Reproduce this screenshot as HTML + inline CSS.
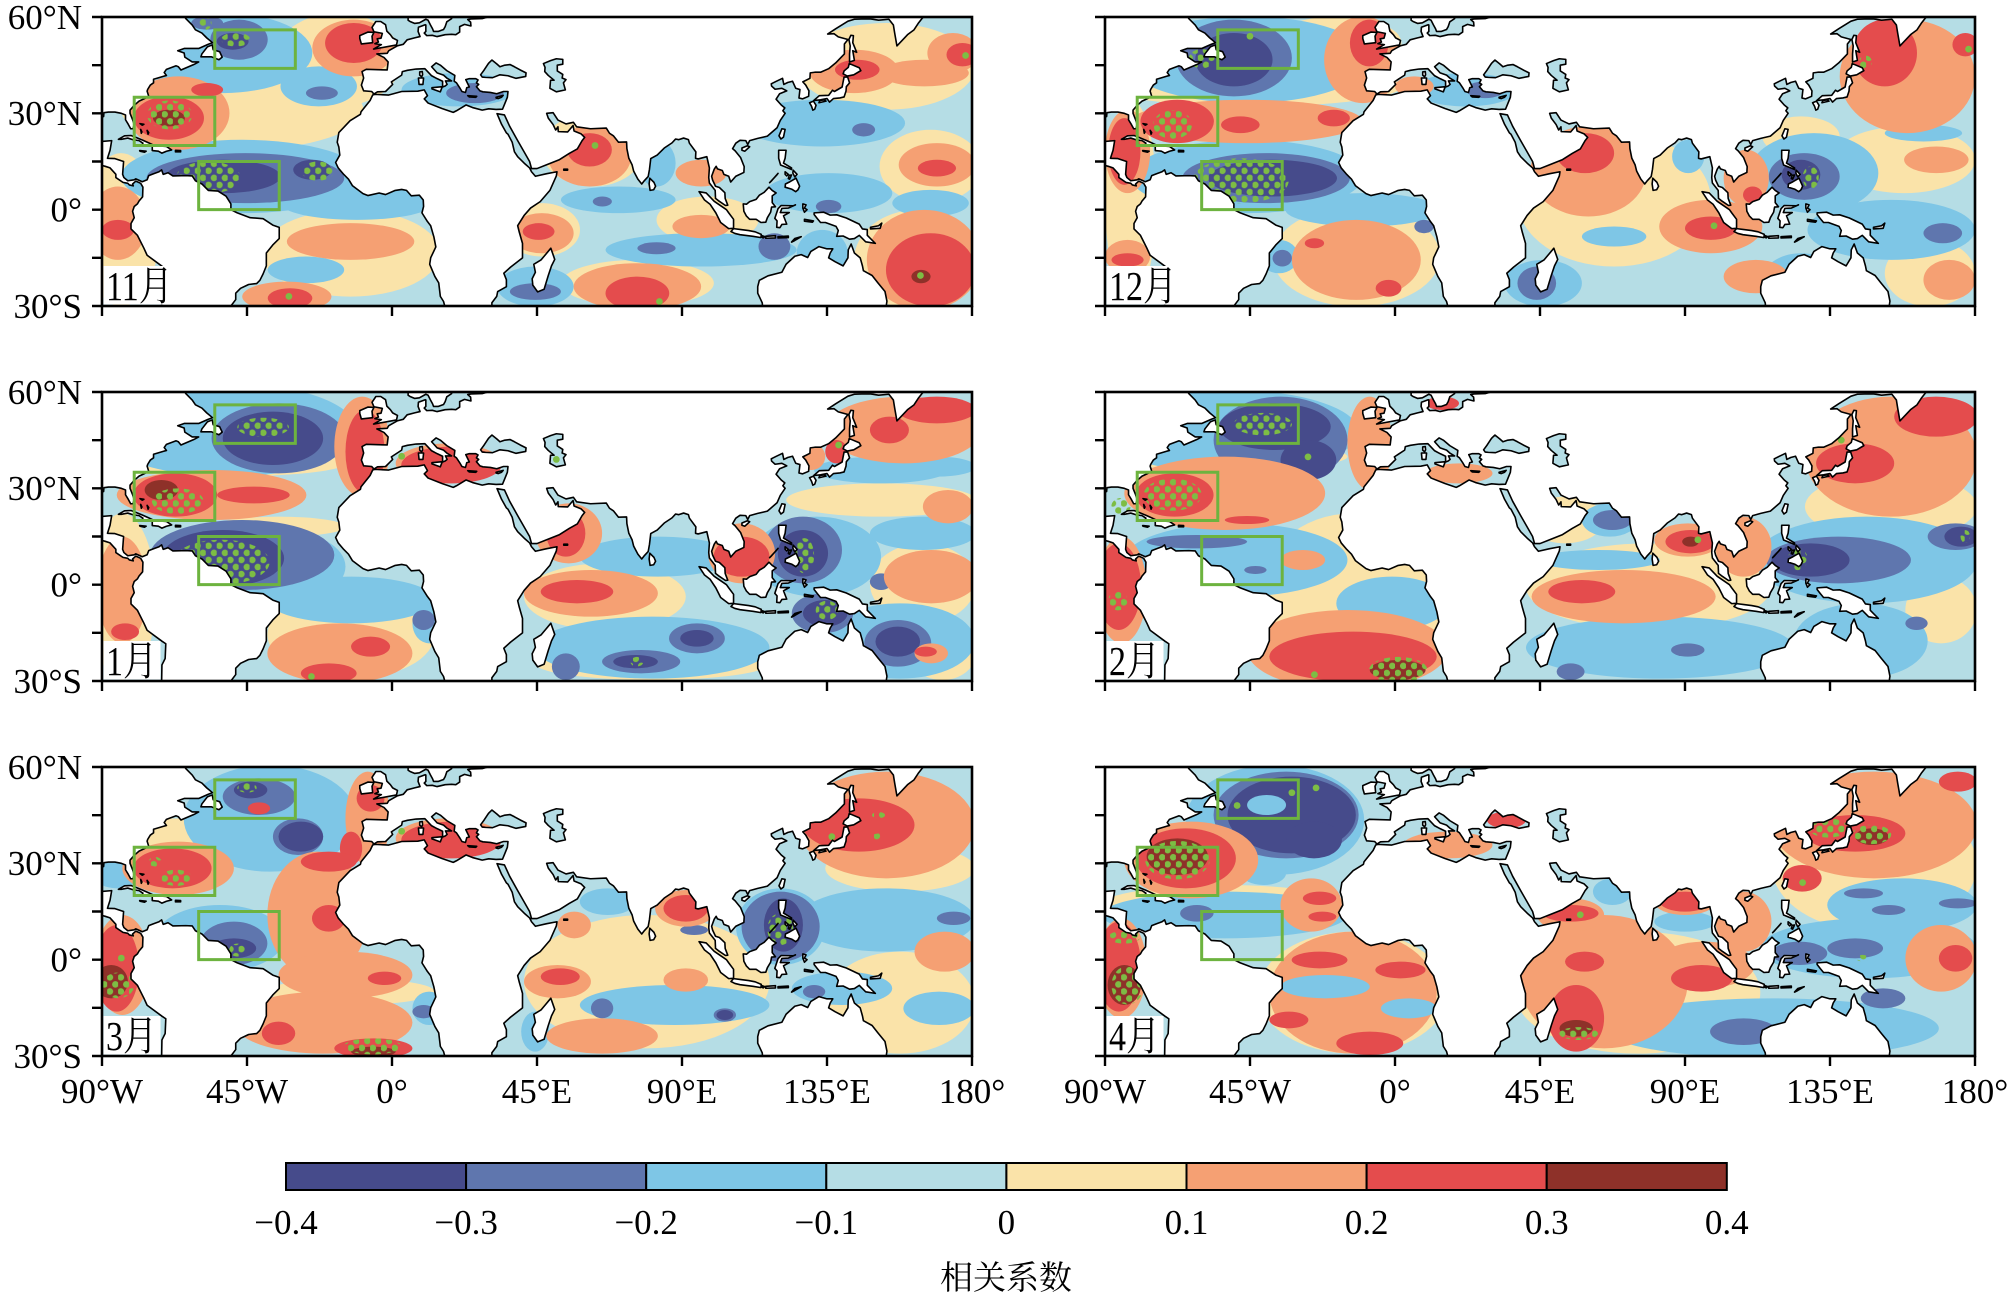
<!DOCTYPE html>
<html><head><meta charset="utf-8">
<style>
html,body{margin:0;padding:0;background:#fff;}
svg{display:block;}
.a{fill:#464b8b}.b{fill:#5f76ae}.c{fill:#7ec6e6}.d{fill:#b5dde5}.e{fill:#fae3a9}.f{fill:#f5a073}.g{fill:#e44c4d}.h{fill:#8e3129}
.land{fill:#fff;stroke:#000;stroke-width:1.6;fill-rule:evenodd;stroke-linejoin:round;vector-effect:non-scaling-stroke}
.bx{fill:none;stroke:#6db33f;stroke-width:3;vector-effect:non-scaling-stroke}
.st{fill:url(#dt)}
.dot{fill:#7dbd44}
.fr{fill:none;stroke:#000;stroke-width:2.6}
.tk{stroke:#000;stroke-width:2.4;fill:none}
.t{font-family:"Liberation Serif","Noto Serif CJK SC",serif;font-size:35px;fill:#000}
.m{font-family:"Liberation Serif","Noto Serif CJK SC",serif;font-size:34px;fill:#000}
.cbl{font-family:"Noto Serif CJK SC","Noto Sans CJK SC",serif;font-size:33px;fill:#000}
</style></head>
<body>
<svg width="2013" height="1299" viewBox="0 0 2013 1299" xmlns="http://www.w3.org/2000/svg">
<defs>
<pattern id="dt" patternUnits="userSpaceOnUse" width="3.4" height="4.4"><circle cx="0.85" cy="1.1" r="1.02" fill="#7dbd44"/><circle cx="2.55" cy="3.3" r="1.02" fill="#7dbd44"/></pattern>
<path id="land" class="land" d="
M5,-60.5 L5,-59 L5.6,-58.6 L7,-58 L8.5,-58.2 L10.5,-59.3 L11.2,-59 L11.9,-57.6 L12.6,-56.3 L12.9,-55.5 L14.3,-55.5 L16,-56.1 L16.5,-57 L17,-58.5 L18.5,-59.5 L18.5,-60.5 L22,-60.5 L22,-60 L24.5,-60.2 L28,-60.5 L30,-60.1 L28,-59.5 L24.5,-59.4 L23.5,-59.2 L24.4,-58.4 L24.5,-57.2 L22.5,-57.7 L21,-57 L21,-55.3 L19.8,-54.5 L18.5,-54.6 L16.5,-54.5 L14,-53.9 L12.5,-54.3 L10.8,-54.2 L10,-55 L10.5,-55.5 L10.5,-57.5 L10.3,-57.6 L8.2,-56.8 L8.1,-55.5 L8.7,-53.9 L7,-53.5 L4.7,-52.9 L3.5,-51.5 L1.6,-51 L-1,-49.5 L-1.5,-48.7 L-4.7,-48.5 L-2.5,-47.4 L-1.2,-46 L-1.5,-43.5 L-8,-43.7 L-9.3,-43 L-8.8,-41 L-9.5,-38.8 L-8.8,-37 L-6.3,-36.8 L-5.6,-36 L-4.5,-36.7 L-2,-36.8 L-0.5,-38.3 L0.2,-39 L-0.2,-39.8 L3,-41.9 L3.2,-43 L4.8,-43.4 L7.5,-43.8 L10.2,-43.9 L12.3,-41.7 L14,-40.8 L15.7,-40 L15.7,-38.2 L16.5,-38.5 L17.1,-39 L16.6,-40.1 L18.5,-40.1 L17,-41 L16,-41.9 L14,-42.6 L12.3,-44.5 L13.7,-45.7 L15,-45 L17,-43.3 L19.5,-41.8 L19.3,-40 L20,-39.5 L21,-38 L21.7,-36.8 L22.8,-36.5 L23.2,-38 L24,-38.2 L22.9,-40.5 L24,-40.8 L26,-40.8 L26.7,-40.4 L26.2,-39.5 L26.9,-39 L26.2,-38.3 L27.3,-37 L28.2,-36.7 L30.5,-36.5 L32.5,-36.1 L34.6,-36.8 L36,-36.8 L35.8,-35 L35,-33 L34.3,-31.3 L32.3,-31.2 L30,-31.4 L28,-31 L25,-31.8 L23,-32.6 L20,-30.8 L19,-30.3 L15.5,-31.5 L11.2,-33.2 L10,-34.5 L11,-35.5 L10,-37.3 L8,-36.9 L3,-36.8 L-1,-35.7 L-5.3,-35.9 L-6,-35.7 L-6.8,-34 L-9.6,-30.5 L-9.8,-29.7 L-13,-27.7 L-16.5,-24 L-17,-21 L-16.5,-19.5 L-16.2,-17 L-17.5,-14.7 L-16.7,-13 L-15,-11 L-13.5,-9.5 L-12.3,-7.5 L-9,-5 L-7.5,-4.4 L-4,-5.2 L-2,-4.7 L1,-6 L3,-6.3 L4.5,-6 L6,-4.3 L8.5,-4.5 L9.7,-3 L9.8,-1 L9.3,1 L11,3.7 L12,5 L13,8.5 L13.6,11.6 L12,15 L11.7,17 L13.3,20.8 L14.5,22.8 L15,27 L16,28.6 L16.5,30.5 L31,30.5 L31,29 L32.5,27 L32.8,25.5 L35.5,24 L35.5,21.8 L34.7,19.8 L36.8,17.9 L40.5,15 L40.5,10.5 L39.5,7 L39,5 L41,1.8 L43,-0.5 L46,-2.5 L49,-6 L51,-10.5 L51.2,-11.8 L48,-11.2 L44.5,-10.4 L43.3,-11.8 L42.7,-13 L41,-14.5 L39,-16.5 L38,-18 L37.3,-21 L36,-23.5 L35.5,-23.9 L34,-26.6 L32.6,-29.9 L34.9,-29.5 L36.5,-26 L39,-21.5 L41,-18 L42.7,-15 L43.3,-12.8 L45,-12.8 L48,-14 L52,-15.6 L55,-17.5 L57.5,-18.9 L59,-21.5 L59.8,-22.5 L58.7,-23.6 L56.5,-24.5 L56.2,-26.2 L54.5,-24.2 L51.6,-24.3 L51.5,-25.8 L50.8,-24.8 L50,-26.5 L48.5,-28.5 L48,-30 L50,-30.2 L51.5,-27.9 L54,-26.7 L56.3,-27.2 L57.3,-25.8 L61.6,-25.2 L66.5,-25.4 L67.5,-23.8 L68.7,-23 L70.3,-21 L72.8,-21.1 L72.9,-19 L73.5,-16 L74.5,-14 L75,-12 L76.3,-9.5 L77.5,-8 L78.2,-8.9 L79.5,-10.3 L79.9,-12.5 L80.3,-15.9 L82.3,-17 L84.5,-19.2 L86.9,-20.8 L88,-22 L89,-21.8 L90.5,-22.3 L92,-21.8 L92.3,-20.7 L94.3,-18 L94.2,-16 L95,-15.8 L97.7,-16.5 L98.5,-13 L98.3,-10 L98.5,-8.3 L100.3,-6 L100.4,-3.5 L101.3,-2.8 L103.5,-1.3 L104.2,-1.4 L103.4,-3.5 L103.3,-5.3 L101.6,-6.9 L100.4,-7.3 L99.5,-9.2 L99.2,-10.4 L100,-12.6 L100.6,-13.5 L101,-12.7 L102.5,-12.2 L103,-11 L104.5,-10.4 L105.1,-8.6 L106.7,-10.4 L109.2,-11.6 L109.3,-13.4 L108.2,-16.2 L106.5,-18.3 L105.7,-19 L106.7,-20.7 L108,-21.6 L109.8,-21.5 L110.4,-20.3 L111,-21.5 L113.5,-22.2 L116.5,-22.9 L119.5,-25.5 L120.5,-27.8 L122,-30 L121.3,-30.8 L121.9,-31.7 L120.8,-32.6 L119.2,-34.4 L120.3,-36.1 L122.5,-37 L121,-37.8 L118.9,-37.5 L117.8,-38.5 L117.7,-39.2 L119.1,-39.9 L121.2,-40.9 L121.6,-39 L122.8,-39.6 L124.3,-40 L125.3,-37.8 L126.6,-37.4 L126.3,-34.8 L127.4,-34.5 L129.3,-35.3 L129.4,-37 L128.4,-38.8 L127.5,-39.8 L129.7,-40.9 L129.8,-42.6 L131.2,-42.8 L133,-42.8 L135.5,-43.9 L137.7,-45.7 L140.4,-48.5 L140.4,-51.6 L141.5,-53 L138.5,-53.8 L137.2,-54.8 L135.2,-54.7 L137.8,-56.4 L141.5,-58.7 L143.5,-59.3 L145.7,-59.4 L148.6,-59.4 L151,-59 L154.2,-59.3 L155.6,-57.5 L156,-55 L156.7,-51 L158.5,-52.9 L160,-54.5 L162,-56 L163.3,-58 L164.7,-59.8 L166,-60.5 Z
M27.5,-42 L28,-41.3 L29,-41.2 L31.2,-41.1 L33.5,-42 L36,-41.7 L38.5,-40.9 L41.5,-41.5 L41.6,-42.6 L39.8,-43.5 L38,-44.5 L36.6,-45.2 L35,-45 L33.5,-44.5 L32.5,-45.4 L31,-46.6 L30,-45.6 L29.7,-45.2 L28.6,-43.5 Z
M47,-45.5 L49.2,-46.4 L51,-47 L53,-46.8 L53,-45.3 L51.3,-45 L51.3,-43.2 L53,-42.1 L52.8,-41 L54,-40.5 L53.2,-39.5 L53.8,-37.3 L51,-36.7 L49,-37.8 L49.2,-40.3 L50.3,-40.3 L48.5,-41.8 L47.4,-43 L47.5,-44.3 Z
M-90.5,-60.5 L-64.5,-60.5 L-64,-59.5 L-62,-57.5 L-61,-56 L-59,-55 L-57.5,-53.5 L-55.7,-52 L-57,-51.5 L-60,-50.2 L-64.5,-50.2 L-66.5,-49.5 L-64.5,-48.8 L-64.3,-47.5 L-62,-46 L-60,-46 L-61.5,-45.2 L-65.5,-43.5 L-66.3,-44.5 L-67,-44.8 L-70,-43.7 L-70.7,-42.7 L-70,-41.8 L-71,-41.5 L-74,-40.6 L-74,-39.5 L-75,-38.8 L-75.8,-37.5 L-76,-36.9 L-75.5,-35.3 L-77,-34.5 L-78.5,-33.8 L-80,-32.5 L-81.3,-31 L-81.3,-30 L-80.5,-28 L-80,-26.5 L-80.4,-25.2 L-81.1,-25.2 L-81.8,-26.5 L-82.7,-28 L-82.7,-29.5 L-84,-30 L-86,-30.4 L-88,-30.4 L-89.4,-30.2 L-89.5,-29 L-90.5,-29 Z
M-59.3,-47.6 L-56,-47.6 L-53.7,-46.7 L-52.7,-47.5 L-53.5,-49.2 L-55.5,-49.8 L-55.8,-51.3 L-57.3,-50.7 L-59,-48.5 Z
M-90.5,-21.2 L-87,-21.5 L-87.5,-18.5 L-88.3,-16 L-86,-15.9 L-83.3,-15 L-83.6,-11 L-83.2,-10 L-82,-9 L-80,-9.3 L-79.5,-9.6 L-77.5,-8.7 L-76,-9.3 L-75.5,-10.6 L-74,-11.2 L-72.3,-11.8 L-71.5,-12.4 L-71,-11 L-69.5,-11.5 L-68,-10.5 L-64,-10.6 L-62,-10.5 L-61,-9 L-59,-8 L-57,-6 L-54,-5.8 L-51.5,-4.2 L-50,-1.8 L-50,0 L-48,1 L-44,2.5 L-40,2.8 L-37,4.8 L-35,5.5 L-35,9 L-37,11 L-39,13.5 L-39,17.5 L-40,20 L-41,22 L-42,23 L-44.5,23.3 L-47,24.5 L-48.5,26 L-48.5,28 L-50,30 L-50.5,30.5 L-71.5,30.5 L-71.4,25 L-70.4,23 L-70.2,18.4 L-71.4,17.6 L-76,14.2 L-77,12 L-79,8 L-81,6 L-81,4.3 L-80,2.5 L-80.5,0.5 L-80,-1 L-79,-1.8 L-78.5,-2.7 L-77.4,-4 L-77.3,-7 L-78,-8.2 L-79.5,-8.9 L-80.5,-8 L-80.3,-7.4 L-81.5,-7.7 L-82,-8.2 L-83.5,-8.5 L-85.7,-10 L-85.7,-11 L-87.5,-13 L-89,-13.5 L-90.5,-13.9 Z
M-84.9,-21.9 L-83,-23 L-81,-23.1 L-79.5,-22.5 L-77.5,-21.7 L-75.5,-20.8 L-74.2,-20.2 L-75.7,-19.9 L-77.7,-19.9 L-77.3,-20.7 L-78.5,-21.5 L-80.5,-21.8 L-82,-22.3 L-84,-21.9 Z
M-74.4,-19.9 L-72.8,-19.9 L-70,-19.7 L-68.4,-18.6 L-70,-18.2 L-71.4,-17.6 L-72.5,-18.2 L-74.4,-18.4 Z
M-78.3,-18.4 L-76.3,-18.2 L-76.8,-17.9 L-78.2,-18.2 Z
M-67.2,-18.5 L-65.6,-18.4 L-65.6,-18 L-67.2,-18 Z
M-78.2,-26.8 L-77,-26.6 L-77.5,-26.3 Z M-78,-25 L-77.6,-24.2 L-77.8,-23.8 Z M-76,-24.7 L-75.5,-24 L-75.7,-23.5 Z
M-5.7,-50 L1.4,-51.3 L1.7,-52.7 L0.2,-53.5 L-0.5,-54.5 L-1.6,-55.6 L-2,-57.6 L-3.5,-58.6 L-5,-58.6 L-6.2,-56.8 L-5.6,-55.4 L-3,-54.9 L-3.4,-53.4 L-4.6,-53.2 L-4.2,-52.2 L-5.3,-51.7 L-3.3,-51.4 Z
M-6,-52 L-6.2,-54 L-5.6,-55.2 L-7.5,-55.3 L-10,-54.2 L-10,-53.3 L-9.5,-51.6 Z
M12.4,-38 L15.6,-38.3 L15,-36.7 L12.4,-37.6 Z
M8.2,-41 L9.8,-41 L9.6,-39 L8.4,-39 Z
M8.6,-42.9 L9.4,-43 L9.5,-42 L9.2,-41.4 L8.6,-41.9 Z
M23.5,-35.5 L26.3,-35.3 L26,-35 L24,-35.1 Z
M32.3,-35 L34.5,-35.6 L34,-35 L33,-34.6 L32.3,-34.8 Z
M49.3,12 L50.5,15.5 L49.5,17.5 L48.5,20.5 L47.2,24.8 L45.2,25.6 L43.7,23.5 L43.5,21.5 L44.5,19.5 L44,17 L46.3,15.6 L47.8,13.8 Z
M79.8,-8 L80,-9.8 L81.3,-8.5 L81.8,-7.3 L81.2,-6.2 L80.1,-6 Z
M53.3,-12.6 L54.5,-12.6 L54.5,-12.3 L53.3,-12.3 Z
M95.3,-5.6 L97.5,-5.2 L100,-2.6 L103.8,0 L104.5,1 L106,3 L106,5.8 L104.5,5.9 L102,4 L100.5,1 L98.7,-1.7 L97,-3 Z
M105.2,6.8 L106,5.9 L108.3,6.2 L110.7,6.5 L112.7,6.9 L114.6,7.7 L114.5,8.7 L112,8.3 L108,7.8 L106.4,7.4 Z
M114.8,8.1 L115.7,8.4 L115.2,8.8 L114.8,8.5 Z
M116,8.3 L119,8.1 L119,8.8 L116,8.9 Z
M119.8,8.4 L123,8.2 L123,8.7 L119.8,8.8 Z
M124,10.1 L125,9 L127,8.4 L125,9.6 Z
M109,-1.8 L110,-1.7 L111,-2.5 L113,-3.2 L114,-4.5 L115.5,-5.4 L117,-7 L118,-6 L119.2,-5.2 L118,-4.3 L118,-2.2 L119,-0.9 L117.8,-0.8 L117.5,0.8 L116.5,2.5 L116,3.9 L114.5,4 L113,3 L111,3 L110,2 L109.2,0.5 Z
M119.4,5.5 L119.5,3.5 L118.8,2.7 L119.8,-0.3 L120.8,-1.3 L124.5,-1.2 L125.2,-1.5 L123,-0.5 L121,-0.4 L120.5,0.9 L123.3,0.9 L121.5,1.9 L122.5,4.5 L121,4.6 L120.4,5.6 Z
M127.5,-1.8 L128.5,-1.5 L128,-0.5 L128.8,0 L128,0.8 L127.5,-0.5 Z
M128,3 L130.8,3.5 L130.5,3.9 L128,3.6 Z
M131,1 L134,0.8 L136,1.7 L138,1.6 L141,2.6 L145,4.5 L146,6 L147.5,6.2 L147.5,8 L150,10.5 L147,10 L145,8 L143.5,9 L142,9.2 L140,8.2 L138,8.3 L138.5,6.5 L137.8,5.2 L134.5,4 L133,4 L132,2.8 L131,1.5 Z
M148.5,5.5 L151,5 L152,4.2 L151.5,5.8 L148.5,6 Z
M114.5,30.5 L115,30 L114.9,29 L113.5,26 L113.5,24 L114,22 L116.7,20.6 L121,19.5 L122.3,17 L125,14.5 L127,14 L129,14.9 L130,13 L132.5,11.5 L135,12.2 L136.8,12.2 L136,13.5 L135.5,15 L137.5,16.2 L140,17.5 L141.5,15 L141.6,12.5 L142.5,10.7 L143.5,13.5 L145.3,15 L146,17.5 L146.3,19 L149,20.5 L150.8,22.8 L153,25.5 L153.6,28.5 L153.3,30.5 Z
M120,-18.5 L122.3,-18.5 L122,-16 L121.5,-14.5 L124,-13 L124,-12.5 L120.6,-13.9 L120,-16 Z
M122,-7 L122.1,-8 L123.5,-8.7 L125.4,-9.8 L126.5,-7.3 L126,-6.2 L125.3,-5.6 L124,-6.4 Z
M124.5,-12.3 L125.7,-11 L125,-10.2 L124.4,-11.4 Z
M122,-11.8 L123,-11 L122.5,-10.5 L122,-11 Z
M123.3,-10.7 L124,-10.8 L123.4,-9.5 L123,-9.7 Z
M117.2,-8.4 L119.5,-10.9 L119.8,-11.3 L117.8,-9 Z
M120.1,-23 L121,-25.2 L122,-25 L121.5,-22.6 L120.7,-22 Z
M108.6,-19.2 L110.3,-19.9 L111,-19.6 L109.5,-18.2 L108.6,-18.5 Z
M130.9,-34 L132.6,-35.5 L135.5,-35.6 L136.7,-37.2 L137.3,-36.8 L139.7,-38.2 L140,-39.8 L140.3,-41.3 L141.4,-41.3 L142,-39.5 L141,-38.3 L140.9,-36.9 L140.3,-35.1 L139,-34.8 L137,-34.6 L135.8,-33.5 L135,-34.6 L133,-34.2 Z
M129.6,-33.3 L130.8,-33.8 L131.6,-32.5 L131.2,-31.3 L130.6,-31 L130.2,-32.2 Z
M132.5,-33.3 L134.7,-33.8 L134.3,-34.2 L132.8,-34 Z
M140,-42.3 L141.3,-41.6 L143.3,-42 L145.5,-43.3 L145,-44.2 L141.9,-45.5 L141.6,-44.3 L140.3,-43.2 Z
M142,-46 L143.5,-46.5 L143,-49.5 L144.2,-49 L143,-52 L143.2,-54.2 L142.4,-54.3 L141.8,-53 L142.2,-51 L142,-48.5 Z"/>
<g id="boxes"><rect class="bx" x="-55" y="-56" width="25" height="12"/><rect class="bx" x="-80" y="-35" width="25" height="15"/><rect class="bx" x="-60" y="-15" width="25" height="15"/></g>
</defs>

<!-- Panel 1: 11月 -->
<svg x="102" y="17" width="870" height="289" viewBox="-90 -60 270 90" preserveAspectRatio="none">
<rect class="d" x="-90" y="-60" width="270" height="90"/>
<g transform="translate(-90 -60) scale(0.1978 0.1039) translate(-160 -52)">
<ellipse class="e" cx="380" cy="330" rx="190" ry="120"/><ellipse class="e" cx="530" cy="180" rx="100" ry="140"/><ellipse class="e" cx="190" cy="690" rx="60" ry="230"/><ellipse class="e" cx="550" cy="760" rx="140" ry="130"/><ellipse class="e" cx="930" cy="450" rx="80" ry="110"/><ellipse class="e" cx="850" cy="690" rx="60" ry="80"/><ellipse class="e" cx="1110" cy="660" rx="80" ry="70"/><ellipse class="e" cx="1000" cy="850" rx="120" ry="70"/><ellipse class="e" cx="1390" cy="200" rx="140" ry="130"/><ellipse class="e" cx="1460" cy="500" rx="80" ry="110"/><ellipse class="e" cx="1440" cy="780" rx="100" ry="150"/>
<ellipse class="c" cx="350" cy="160" rx="140" ry="120"/><ellipse class="c" cx="500" cy="260" rx="60" ry="60"/><ellipse class="c" cx="380" cy="530" rx="190" ry="110"/><ellipse class="c" cx="560" cy="610" rx="120" ry="50"/><ellipse class="c" cx="480" cy="810" rx="60" ry="40"/><ellipse class="c" cx="720" cy="270" rx="90" ry="50"/><ellipse class="c" cx="970" cy="600" rx="90" ry="40"/><ellipse class="c" cx="1100" cy="750" rx="150" ry="50"/><ellipse class="c" cx="840" cy="860" rx="60" ry="60"/><ellipse class="c" cx="1030" cy="490" rx="30" ry="70"/><ellipse class="c" cx="1290" cy="370" rx="130" ry="70"/><ellipse class="c" cx="1300" cy="580" rx="100" ry="60"/><ellipse class="c" cx="1290" cy="760" rx="40" ry="70"/><ellipse class="c" cx="1460" cy="610" rx="60" ry="40"/>
<ellipse class="b" cx="375" cy="120" rx="45" ry="60"/><ellipse class="b" cx="325" cy="70" rx="25" ry="20"/><ellipse class="b" cx="505" cy="280" rx="25" ry="20"/><ellipse class="b" cx="385" cy="535" rx="155" ry="75"/><ellipse class="b" cx="745" cy="280" rx="45" ry="30"/><ellipse class="b" cx="945" cy="605" rx="15" ry="15"/><ellipse class="b" cx="1030" cy="745" rx="30" ry="18"/><ellipse class="b" cx="1215" cy="740" rx="25" ry="40"/><ellipse class="b" cx="840" cy="875" rx="40" ry="25"/><ellipse class="b" cx="1355" cy="390" rx="18" ry="20"/><ellipse class="b" cx="1300" cy="620" rx="20" ry="20"/>
<ellipse class="a" cx="365" cy="125" rx="25" ry="25"/><ellipse class="a" cx="350" cy="530" rx="90" ry="50"/><ellipse class="a" cx="490" cy="510" rx="30" ry="30"/>
<ellipse class="f" cx="555" cy="145" rx="65" ry="85"/><ellipse class="f" cx="280" cy="340" rx="80" ry="110"/><ellipse class="f" cx="550" cy="725" rx="100" ry="55"/><ellipse class="f" cx="185" cy="670" rx="45" ry="110"/><ellipse class="f" cx="450" cy="890" rx="70" ry="45"/><ellipse class="f" cx="925" cy="470" rx="65" ry="90"/><ellipse class="f" cx="850" cy="700" rx="50" ry="60"/><ellipse class="f" cx="1100" cy="520" rx="40" ry="40"/><ellipse class="f" cx="1100" cy="680" rx="45" ry="35"/><ellipse class="f" cx="1000" cy="860" rx="100" ry="70"/><ellipse class="f" cx="1340" cy="215" rx="70" ry="65"/><ellipse class="f" cx="1450" cy="220" rx="70" ry="40"/><ellipse class="f" cx="1495" cy="160" rx="40" ry="60"/><ellipse class="f" cx="1470" cy="495" rx="60" ry="65"/><ellipse class="f" cx="1450" cy="780" rx="90" ry="150"/>
<ellipse class="g" cx="555" cy="130" rx="45" ry="60"/><ellipse class="g" cx="265" cy="355" rx="55" ry="65"/><ellipse class="g" cx="325" cy="270" rx="25" ry="20"/><ellipse class="g" cx="455" cy="895" rx="35" ry="30"/><ellipse class="g" cx="185" cy="690" rx="25" ry="30"/><ellipse class="g" cx="925" cy="450" rx="35" ry="50"/><ellipse class="g" cx="845" cy="695" rx="25" ry="25"/><ellipse class="g" cx="1000" cy="880" rx="50" ry="50"/><ellipse class="g" cx="1345" cy="210" rx="35" ry="30"/><ellipse class="g" cx="1510" cy="165" rx="25" ry="35"/><ellipse class="g" cx="1470" cy="505" rx="30" ry="25"/><ellipse class="g" cx="1460" cy="810" rx="70" ry="110"/>
<ellipse class="h" cx="265" cy="355" rx="25" ry="25"/><ellipse class="h" cx="1445" cy="830" rx="15" ry="20"/>
</g>
<ellipse class="st" cx="-69" cy="-29.5" rx="7" ry="4.5"/><ellipse class="st" cx="-48.5" cy="-53" rx="4.5" ry="2.2"/><ellipse class="st" cx="-57" cy="-10" rx="10" ry="5"/><ellipse class="st" cx="-23" cy="-12" rx="5" ry="3"/><ellipse class="st" cx="-58" cy="-58" rx="2" ry="2"/>
<circle class="dot" cx="63" cy="-20" r="1.05"/><circle class="dot" cx="164" cy="20.5" r="1.05"/><circle class="dot" cx="178" cy="-48" r="1.05"/><circle class="dot" cx="-32" cy="27" r="1.05"/><circle class="dot" cx="83" cy="28.6" r="1.05"/>
<use href="#land"/><use href="#boxes"/>
</svg>

<!-- Panel 2: 12月 -->
<svg x="1105" y="17" width="870" height="289" viewBox="-90 -60 270 90" preserveAspectRatio="none">
<rect class="d" x="-90" y="-60" width="270" height="90"/>
<g transform="translate(-90 -60) scale(0.2 0.1039) translate(-160 -52)">
<ellipse class="e" cx="390" cy="260" rx="230" ry="60"/><ellipse class="e" cx="520" cy="130" rx="100" ry="80"/><ellipse class="e" cx="550" cy="770" rx="130" ry="150"/><ellipse class="e" cx="200" cy="600" rx="40" ry="300"/><ellipse class="e" cx="950" cy="600" rx="150" ry="200"/><ellipse class="e" cx="1400" cy="480" rx="110" ry="100"/><ellipse class="e" cx="1440" cy="820" rx="70" ry="100"/><ellipse class="e" cx="1240" cy="410" rx="60" ry="60"/>
<ellipse class="c" cx="380" cy="180" rx="190" ry="130"/><ellipse class="c" cx="380" cy="530" rx="180" ry="110"/><ellipse class="c" cx="560" cy="630" rx="120" ry="50"/><ellipse class="c" cx="430" cy="770" rx="30" ry="50"/><ellipse class="c" cx="720" cy="270" rx="80" ry="50"/><ellipse class="c" cx="950" cy="710" rx="50" ry="30"/><ellipse class="c" cx="840" cy="850" rx="60" ry="70"/><ellipse class="c" cx="1065" cy="470" rx="25" ry="50"/><ellipse class="c" cx="1260" cy="520" rx="100" ry="120"/><ellipse class="c" cx="1380" cy="690" rx="130" ry="90"/><ellipse class="c" cx="1430" cy="400" rx="60" ry="25"/><ellipse class="c" cx="1240" cy="840" rx="60" ry="80"/>
<ellipse class="b" cx="360" cy="175" rx="90" ry="115"/><ellipse class="b" cx="410" cy="535" rx="130" ry="75"/><ellipse class="b" cx="435" cy="775" rx="15" ry="25"/><ellipse class="b" cx="830" cy="850" rx="30" ry="50"/><ellipse class="b" cx="1245" cy="530" rx="55" ry="70"/><ellipse class="b" cx="750" cy="270" rx="30" ry="25"/><ellipse class="b" cx="655" cy="680" rx="15" ry="20"/><ellipse class="b" cx="1460" cy="700" rx="30" ry="30"/>
<ellipse class="a" cx="360" cy="180" rx="60" ry="80"/><ellipse class="a" cx="420" cy="535" rx="100" ry="55"/><ellipse class="a" cx="1240" cy="525" rx="30" ry="45"/>
<ellipse class="f" cx="560" cy="180" rx="60" ry="130"/><ellipse class="f" cx="380" cy="365" rx="180" ry="65"/><ellipse class="f" cx="550" cy="780" rx="100" ry="120"/><ellipse class="f" cx="195" cy="455" rx="35" ry="125"/><ellipse class="f" cx="195" cy="770" rx="35" ry="50"/><ellipse class="f" cx="910" cy="515" rx="90" ry="135"/><ellipse class="f" cx="1100" cy="680" rx="80" ry="80"/><ellipse class="f" cx="1155" cy="535" rx="35" ry="85"/><ellipse class="f" cx="1405" cy="230" rx="105" ry="170"/><ellipse class="f" cx="1450" cy="480" rx="50" ry="40"/><ellipse class="f" cx="1170" cy="830" rx="50" ry="50"/><ellipse class="f" cx="1470" cy="840" rx="40" ry="60"/><ellipse class="f" cx="640" cy="260" rx="30" ry="30"/>
<ellipse class="g" cx="570" cy="130" rx="30" ry="70"/><ellipse class="g" cx="272" cy="365" rx="57" ry="65"/><ellipse class="g" cx="370" cy="375" rx="30" ry="25"/><ellipse class="g" cx="515" cy="355" rx="25" ry="25"/><ellipse class="g" cx="190" cy="455" rx="25" ry="100"/><ellipse class="g" cx="195" cy="780" rx="25" ry="20"/><ellipse class="g" cx="485" cy="730" rx="15" ry="15"/><ellipse class="g" cx="600" cy="865" rx="20" ry="25"/><ellipse class="g" cx="905" cy="460" rx="45" ry="60"/><ellipse class="g" cx="1100" cy="685" rx="40" ry="35"/><ellipse class="g" cx="1370" cy="160" rx="50" ry="100"/><ellipse class="g" cx="1495" cy="135" rx="20" ry="35"/><ellipse class="g" cx="1165" cy="585" rx="15" ry="25"/>
</g>
<ellipse class="st" cx="-69" cy="-26.5" rx="6" ry="4.5"/><ellipse class="st" cx="-48" cy="-9" rx="15" ry="7"/><ellipse class="st" cx="-60" cy="-47" rx="4" ry="3"/><ellipse class="st" cx="129" cy="-10" rx="2.5" ry="3.5"/><ellipse class="st" cx="146" cy="-46" rx="2" ry="2"/>
<circle class="dot" cx="178" cy="-50" r="1.05"/><circle class="dot" cx="99" cy="5" r="1.05"/><circle class="dot" cx="-45" cy="-54" r="1.05"/>
<use href="#land"/><use href="#boxes"/>
</svg>

<!-- Panel 3: 1月 -->
<svg x="102" y="392" width="870" height="289" viewBox="-90 -60 270 90" preserveAspectRatio="none">
<rect class="d" x="-90" y="-60" width="270" height="90"/>
<g transform="translate(-90 -60) scale(0.17314 0.1038) translate(-3.6 -6)">
<ellipse class="e" cx="220" cy="220" rx="220" ry="40"/><ellipse class="e" cx="320" cy="410" rx="120" ry="30"/><ellipse class="e" cx="450" cy="733" rx="150" ry="133"/><ellipse class="e" cx="40" cy="620" rx="60" ry="250"/><ellipse class="e" cx="905" cy="620" rx="145" ry="100"/><ellipse class="e" cx="990" cy="820" rx="210" ry="50"/><ellipse class="e" cx="1400" cy="330" rx="170" ry="50"/><ellipse class="e" cx="1475" cy="580" rx="95" ry="120"/><ellipse class="e" cx="1510" cy="790" rx="60" ry="80"/>
<ellipse class="c" cx="230" cy="120" rx="230" ry="140"/><ellipse class="c" cx="320" cy="530" rx="120" ry="110"/><ellipse class="c" cx="450" cy="630" rx="150" ry="70"/><ellipse class="c" cx="590" cy="700" rx="30" ry="60"/><ellipse class="c" cx="1000" cy="500" rx="140" ry="60"/><ellipse class="c" cx="990" cy="773" rx="210" ry="93"/><ellipse class="c" cx="1285" cy="500" rx="115" ry="120"/><ellipse class="c" cx="1475" cy="430" rx="95" ry="50"/><ellipse class="c" cx="1434" cy="753" rx="134" ry="113"/><ellipse class="c" cx="1400" cy="240" rx="120" ry="40"/><ellipse class="c" cx="1500" cy="230" rx="70" ry="30"/>
<ellipse class="b" cx="320" cy="145" rx="120" ry="105"/><ellipse class="b" cx="255" cy="495" rx="165" ry="105"/><ellipse class="b" cx="580" cy="690" rx="20" ry="30"/><ellipse class="b" cx="1070" cy="745" rx="50" ry="45"/><ellipse class="b" cx="970" cy="815" rx="70" ry="35"/><ellipse class="b" cx="835" cy="830" rx="25" ry="40"/><ellipse class="b" cx="1260" cy="480" rx="70" ry="100"/><ellipse class="b" cx="1295" cy="670" rx="55" ry="60"/><ellipse class="b" cx="1430" cy="760" rx="60" ry="70"/><ellipse class="b" cx="1400" cy="575" rx="20" ry="25"/>
<ellipse class="a" cx="310" cy="145" rx="90" ry="80"/><ellipse class="a" cx="220" cy="505" rx="110" ry="85"/><ellipse class="a" cx="1260" cy="490" rx="45" ry="70"/><ellipse class="a" cx="1300" cy="670" rx="40" ry="40"/><ellipse class="a" cx="1430" cy="755" rx="40" ry="45"/><ellipse class="a" cx="1070" cy="745" rx="30" ry="25"/><ellipse class="a" cx="960" cy="815" rx="40" ry="20"/>
<ellipse class="f" cx="470" cy="170" rx="50" ry="150"/><ellipse class="f" cx="200" cy="315" rx="170" ry="75"/><ellipse class="f" cx="40" cy="600" rx="45" ry="160"/><ellipse class="f" cx="430" cy="790" rx="130" ry="90"/><ellipse class="f" cx="625" cy="220" rx="95" ry="60"/><ellipse class="f" cx="840" cy="430" rx="60" ry="90"/><ellipse class="f" cx="880" cy="610" rx="120" ry="70"/><ellipse class="f" cx="1150" cy="490" rx="60" ry="90"/><ellipse class="f" cx="1440" cy="120" rx="140" ry="100"/><ellipse class="f" cx="1520" cy="350" rx="45" ry="50"/><ellipse class="f" cx="1490" cy="560" rx="85" ry="80"/><ellipse class="f" cx="1490" cy="790" rx="30" ry="30"/><ellipse class="f" cx="1275" cy="200" rx="25" ry="40"/>
<ellipse class="g" cx="475" cy="185" rx="35" ry="125"/><ellipse class="g" cx="135" cy="315" rx="75" ry="65"/><ellipse class="g" cx="275" cy="315" rx="65" ry="25"/><ellipse class="g" cx="45" cy="725" rx="25" ry="25"/><ellipse class="g" cx="410" cy="850" rx="50" ry="30"/><ellipse class="g" cx="485" cy="770" rx="35" ry="30"/><ellipse class="g" cx="630" cy="225" rx="90" ry="55"/><ellipse class="g" cx="835" cy="430" rx="35" ry="70"/><ellipse class="g" cx="855" cy="605" rx="65" ry="35"/><ellipse class="g" cx="1150" cy="500" rx="50" ry="60"/><ellipse class="g" cx="1415" cy="120" rx="35" ry="40"/><ellipse class="g" cx="1500" cy="60" rx="70" ry="40"/><ellipse class="g" cx="1320" cy="185" rx="20" ry="35"/><ellipse class="g" cx="1480" cy="785" rx="20" ry="15"/>
<ellipse class="h" cx="110" cy="300" rx="30" ry="30"/>
</g>
<ellipse class="st" cx="-40" cy="-49" rx="8" ry="3"/><ellipse class="st" cx="-66.5" cy="-26" rx="8" ry="4"/><ellipse class="st" cx="-53" cy="-7" rx="15" ry="7"/><ellipse class="st" cx="128" cy="-9" rx="3" ry="5.5"/><ellipse class="st" cx="135" cy="8" rx="3.5" ry="3"/><ellipse class="st" cx="76" cy="24" rx="2" ry="1.5"/>
<circle class="dot" cx="-25" cy="28.6" r="1.05"/><circle class="dot" cx="138.6" cy="-43.5" r="1.05"/><circle class="dot" cx="3" cy="-40" r="1.05"/><circle class="dot" cx="51" cy="-39" r="1.05"/>
<use href="#land"/><use href="#boxes"/>
</svg>

<!-- Panel 4: 2月 -->
<svg x="1105" y="392" width="870" height="289" viewBox="-90 -60 270 90" preserveAspectRatio="none">
<rect class="d" x="-90" y="-60" width="270" height="90"/>
<g transform="translate(-90 -60) scale(0.17314 0.1038) translate(-5.4 -6)">
<ellipse class="e" cx="220" cy="200" rx="220" ry="40"/><ellipse class="e" cx="450" cy="620" rx="170" ry="250"/><ellipse class="e" cx="980" cy="590" rx="220" ry="130"/><ellipse class="e" cx="1414" cy="350" rx="154" ry="100"/><ellipse class="e" cx="1504" cy="660" rx="64" ry="100"/><ellipse class="e" cx="830" cy="390" rx="70" ry="70"/>
<ellipse class="c" cx="230" cy="125" rx="230" ry="125"/><ellipse class="c" cx="240" cy="510" rx="200" ry="110"/><ellipse class="c" cx="520" cy="640" rx="100" ry="80"/><ellipse class="c" cx="1000" cy="773" rx="240" ry="93"/><ellipse class="c" cx="890" cy="510" rx="110" ry="30"/><ellipse class="c" cx="910" cy="390" rx="50" ry="50"/><ellipse class="c" cx="1370" cy="510" rx="200" ry="130"/><ellipse class="c" cx="1360" cy="753" rx="120" ry="113"/>
<ellipse class="b" cx="320" cy="150" rx="120" ry="130"/><ellipse class="b" cx="170" cy="455" rx="90" ry="20"/><ellipse class="b" cx="275" cy="540" rx="20" ry="12"/><ellipse class="b" cx="915" cy="390" rx="35" ry="30"/><ellipse class="b" cx="1050" cy="780" rx="30" ry="20"/><ellipse class="b" cx="1320" cy="510" rx="130" ry="70"/><ellipse class="b" cx="1530" cy="440" rx="50" ry="40"/><ellipse class="b" cx="1460" cy="700" rx="20" ry="20"/><ellipse class="b" cx="840" cy="845" rx="25" ry="25"/>
<ellipse class="a" cx="310" cy="110" rx="100" ry="70"/><ellipse class="a" cx="370" cy="210" rx="50" ry="60"/><ellipse class="a" cx="1270" cy="510" rx="70" ry="50"/><ellipse class="a" cx="1540" cy="440" rx="30" ry="30"/>
<ellipse class="f" cx="480" cy="160" rx="40" ry="140"/><ellipse class="f" cx="220" cy="310" rx="180" ry="110"/><ellipse class="f" cx="35" cy="600" rx="45" ry="160"/><ellipse class="f" cx="440" cy="780" rx="180" ry="120"/><ellipse class="f" cx="360" cy="510" rx="40" ry="30"/><ellipse class="f" cx="935" cy="620" rx="165" ry="80"/><ellipse class="f" cx="1050" cy="450" rx="60" ry="50"/><ellipse class="f" cx="1150" cy="470" rx="50" ry="90"/><ellipse class="f" cx="1414" cy="200" rx="154" ry="180"/><ellipse class="f" cx="640" cy="250" rx="60" ry="30"/>
<ellipse class="g" cx="130" cy="315" rx="70" ry="65"/><ellipse class="g" cx="30" cy="590" rx="40" ry="130"/><ellipse class="g" cx="450" cy="800" rx="150" ry="75"/><ellipse class="g" cx="860" cy="605" rx="60" ry="35"/><ellipse class="g" cx="1055" cy="455" rx="45" ry="35"/><ellipse class="g" cx="1350" cy="220" rx="70" ry="60"/><ellipse class="g" cx="1495" cy="80" rx="75" ry="60"/><ellipse class="g" cx="610" cy="40" rx="30" ry="20"/><ellipse class="g" cx="260" cy="390" rx="40" ry="12"/>
<ellipse class="h" cx="530" cy="840" rx="50" ry="30"/><ellipse class="h" cx="1055" cy="455" rx="15" ry="15"/>
</g>
<ellipse class="st" cx="-41" cy="-50" rx="9" ry="3.5"/><ellipse class="st" cx="-69" cy="-28" rx="9" ry="5"/><ellipse class="st" cx="-85" cy="-24.5" rx="3" ry="2.5"/><ellipse class="st" cx="-86" cy="5" rx="3" ry="3"/><ellipse class="st" cx="1" cy="26.5" rx="9" ry="4"/><ellipse class="st" cx="125" cy="-8" rx="3" ry="3.5"/><ellipse class="st" cx="177" cy="-15" rx="1.5" ry="2"/>
<circle class="dot" cx="-25" cy="28" r="1.05"/><circle class="dot" cx="94" cy="-14" r="1.05"/><circle class="dot" cx="138.5" cy="-45" r="1.05"/><circle class="dot" cx="-27" cy="-39.8" r="1.05"/>
<use href="#land"/><use href="#boxes"/>
</svg>

<!-- Panel 5: 3月 -->
<svg x="102" y="767" width="870" height="289" viewBox="-90 -60 270 90" preserveAspectRatio="none">
<rect class="d" x="-90" y="-60" width="270" height="90"/>
<g transform="translate(-90 -60) scale(0.17314 0.1038) translate(-3.6 -6)">
<ellipse class="e" cx="150" cy="210" rx="150" ry="50"/><ellipse class="e" cx="450" cy="680" rx="150" ry="40"/><ellipse class="e" cx="980" cy="650" rx="220" ry="200"/><ellipse class="e" cx="1434" cy="310" rx="134" ry="70"/><ellipse class="e" cx="1434" cy="713" rx="134" ry="153"/>
<ellipse class="c" cx="305" cy="160" rx="155" ry="160"/><ellipse class="c" cx="215" cy="520" rx="115" ry="100"/><ellipse class="c" cx="1030" cy="720" rx="170" ry="60"/><ellipse class="c" cx="910" cy="410" rx="50" ry="40"/><ellipse class="c" cx="1220" cy="485" rx="80" ry="115"/><ellipse class="c" cx="1409" cy="465" rx="159" ry="95"/><ellipse class="c" cx="1330" cy="670" rx="90" ry="50"/><ellipse class="c" cx="1504" cy="730" rx="64" ry="50"/><ellipse class="c" cx="780" cy="800" rx="25" ry="60"/><ellipse class="c" cx="590" cy="730" rx="30" ry="50"/><ellipse class="c" cx="30" cy="330" rx="40" ry="40"/>
<ellipse class="b" cx="285" cy="95" rx="65" ry="55"/><ellipse class="b" cx="355" cy="215" rx="45" ry="55"/><ellipse class="b" cx="240" cy="535" rx="60" ry="65"/><ellipse class="b" cx="900" cy="730" rx="20" ry="30"/><ellipse class="b" cx="1120" cy="750" rx="20" ry="20"/><ellipse class="b" cx="1220" cy="485" rx="70" ry="105"/><ellipse class="b" cx="1530" cy="460" rx="30" ry="20"/><ellipse class="b" cx="1280" cy="680" rx="20" ry="20"/><ellipse class="b" cx="1065" cy="495" rx="25" ry="15"/><ellipse class="b" cx="580" cy="740" rx="20" ry="20"/>
<ellipse class="a" cx="360" cy="215" rx="40" ry="45"/><ellipse class="a" cx="270" cy="75" rx="30" ry="25"/><ellipse class="a" cx="1225" cy="480" rx="35" ry="80"/><ellipse class="a" cx="1120" cy="750" rx="15" ry="15"/><ellipse class="a" cx="240" cy="550" rx="40" ry="30"/>
<ellipse class="f" cx="480" cy="160" rx="40" ry="140"/><ellipse class="f" cx="140" cy="310" rx="100" ry="80"/><ellipse class="f" cx="390" cy="450" rx="90" ry="190"/><ellipse class="f" cx="440" cy="630" rx="120" ry="70"/><ellipse class="f" cx="400" cy="773" rx="160" ry="93"/><ellipse class="f" cx="40" cy="600" rx="50" ry="150"/><ellipse class="f" cx="625" cy="220" rx="95" ry="60"/><ellipse class="f" cx="850" cy="480" rx="30" ry="40"/><ellipse class="f" cx="820" cy="650" rx="60" ry="50"/><ellipse class="f" cx="1050" cy="645" rx="40" ry="35"/><ellipse class="f" cx="900" cy="813" rx="100" ry="53"/><ellipse class="f" cx="1409" cy="180" rx="159" ry="160"/><ellipse class="f" cx="1514" cy="560" rx="54" ry="60"/><ellipse class="f" cx="1050" cy="430" rx="55" ry="55"/>
<ellipse class="g" cx="285" cy="130" rx="20" ry="18"/><ellipse class="g" cx="450" cy="250" rx="20" ry="50"/><ellipse class="g" cx="485" cy="100" rx="25" ry="40"/><ellipse class="g" cx="130" cy="310" rx="70" ry="60"/><ellipse class="g" cx="410" cy="290" rx="50" ry="30"/><ellipse class="g" cx="410" cy="460" rx="30" ry="40"/><ellipse class="g" cx="510" cy="640" rx="30" ry="20"/><ellipse class="g" cx="320" cy="805" rx="30" ry="35"/><ellipse class="g" cx="490" cy="850" rx="70" ry="30"/><ellipse class="g" cx="30" cy="610" rx="40" ry="130"/><ellipse class="g" cx="630" cy="225" rx="90" ry="55"/><ellipse class="g" cx="1050" cy="430" rx="40" ry="40"/><ellipse class="g" cx="825" cy="635" rx="35" ry="25"/><ellipse class="g" cx="1360" cy="180" rx="100" ry="80"/>
<ellipse class="h" cx="20" cy="650" rx="30" ry="50"/><ellipse class="h" cx="490" cy="860" rx="40" ry="15"/>
</g>
<ellipse class="st" cx="-45" cy="-53.5" rx="3" ry="1.5"/><ellipse class="st" cx="-67" cy="-25.5" rx="5" ry="2.5"/><ellipse class="st" cx="-73.5" cy="-30.5" rx="2" ry="1.5"/><ellipse class="st" cx="-48" cy="-3" rx="2.5" ry="2"/><ellipse class="st" cx="-85" cy="8" rx="5" ry="4"/><ellipse class="st" cx="-6" cy="27" rx="9" ry="2.5"/><ellipse class="st" cx="120.5" cy="-9.5" rx="4" ry="5"/><ellipse class="st" cx="151" cy="-45" rx="2" ry="1"/><ellipse class="st" cx="151" cy="-38.3" rx="2" ry="1"/>
<circle class="dot" cx="136.5" cy="-38.3" r="1.05"/><circle class="dot" cx="3" cy="-40" r="1.05"/><circle class="dot" cx="-84" cy="-0.5" r="1.05"/>
<use href="#land"/><use href="#boxes"/>
</svg>

<!-- Panel 6: 4月 -->
<svg x="1105" y="767" width="870" height="289" viewBox="-90 -60 270 90" preserveAspectRatio="none">
<rect class="d" x="-90" y="-60" width="270" height="90"/>
<g transform="translate(-90 -60) scale(0.17314 0.1038) translate(-5.4 -6)">
<ellipse class="e" cx="220" cy="420" rx="220" ry="60"/><ellipse class="e" cx="450" cy="683" rx="170" ry="183"/><ellipse class="e" cx="960" cy="683" rx="220" ry="183"/><ellipse class="e" cx="1384" cy="300" rx="184" ry="200"/>
<ellipse class="c" cx="310" cy="165" rx="160" ry="165"/><ellipse class="c" cx="220" cy="450" rx="220" ry="70"/><ellipse class="c" cx="290" cy="325" rx="40" ry="35"/><ellipse class="c" cx="1200" cy="790" rx="300" ry="90"/><ellipse class="c" cx="1045" cy="470" rx="55" ry="30"/><ellipse class="c" cx="915" cy="380" rx="35" ry="40"/><ellipse class="c" cx="1374" cy="550" rx="194" ry="90"/><ellipse class="c" cx="1434" cy="420" rx="134" ry="80"/>
<ellipse class="b" cx="330" cy="150" rx="130" ry="130"/><ellipse class="b" cx="170" cy="445" rx="30" ry="25"/><ellipse class="b" cx="1250" cy="565" rx="50" ry="35"/><ellipse class="b" cx="1350" cy="550" rx="50" ry="30"/><ellipse class="b" cx="1365" cy="385" rx="35" ry="15"/><ellipse class="b" cx="1534" cy="415" rx="34" ry="15"/><ellipse class="b" cx="1410" cy="435" rx="30" ry="15"/><ellipse class="b" cx="1150" cy="800" rx="60" ry="40"/><ellipse class="b" cx="1400" cy="700" rx="40" ry="30"/>
<ellipse class="a" cx="340" cy="150" rx="115" ry="115"/><ellipse class="a" cx="380" cy="225" rx="50" ry="55"/>
<ellipse class="c" cx="295" cy="120" rx="35" ry="30"/>
<ellipse class="f" cx="160" cy="285" rx="120" ry="115"/><ellipse class="f" cx="375" cy="420" rx="55" ry="80"/><ellipse class="f" cx="450" cy="683" rx="150" ry="183"/><ellipse class="f" cx="35" cy="610" rx="45" ry="150"/><ellipse class="f" cx="900" cy="650" rx="150" ry="200"/><ellipse class="f" cx="1080" cy="600" rx="90" ry="70"/><ellipse class="f" cx="840" cy="450" rx="60" ry="50"/><ellipse class="f" cx="1045" cy="410" rx="55" ry="40"/><ellipse class="f" cx="1150" cy="470" rx="50" ry="90"/><ellipse class="f" cx="1384" cy="180" rx="184" ry="160"/><ellipse class="f" cx="1504" cy="580" rx="64" ry="100"/><ellipse class="f" cx="620" cy="240" rx="80" ry="40"/>
<ellipse class="c" cx="400" cy="665" rx="80" ry="35"/><ellipse class="c" cx="550" cy="730" rx="50" ry="30"/>
<ellipse class="g" cx="150" cy="280" rx="90" ry="90"/><ellipse class="g" cx="390" cy="400" rx="30" ry="20"/><ellipse class="g" cx="395" cy="455" rx="25" ry="15"/><ellipse class="g" cx="390" cy="585" rx="50" ry="25"/><ellipse class="g" cx="535" cy="615" rx="45" ry="25"/><ellipse class="g" cx="335" cy="765" rx="35" ry="25"/><ellipse class="g" cx="480" cy="835" rx="60" ry="35"/><ellipse class="g" cx="30" cy="605" rx="40" ry="135"/><ellipse class="g" cx="840" cy="445" rx="50" ry="25"/><ellipse class="g" cx="1045" cy="410" rx="45" ry="30"/><ellipse class="g" cx="1075" cy="640" rx="55" ry="40"/><ellipse class="g" cx="850" cy="760" rx="50" ry="100"/><ellipse class="g" cx="865" cy="590" rx="35" ry="30"/><ellipse class="g" cx="1350" cy="205" rx="90" ry="55"/><ellipse class="g" cx="1255" cy="340" rx="35" ry="40"/><ellipse class="g" cx="1534" cy="50" rx="34" ry="30"/><ellipse class="g" cx="1530" cy="580" rx="30" ry="40"/><ellipse class="g" cx="725" cy="165" rx="35" ry="25"/>
<ellipse class="h" cx="135" cy="275" rx="55" ry="55"/><ellipse class="h" cx="40" cy="660" rx="30" ry="60"/><ellipse class="h" cx="1380" cy="215" rx="30" ry="25"/><ellipse class="h" cx="850" cy="790" rx="30" ry="25"/>
</g>
<ellipse class="st" cx="-67.5" cy="-31" rx="10" ry="6"/><ellipse class="st" cx="-84" cy="-7" rx="5" ry="2"/><ellipse class="st" cx="-83" cy="8" rx="5" ry="6"/><ellipse class="st" cx="134.5" cy="-41" rx="6" ry="3"/><ellipse class="st" cx="148" cy="-39" rx="6" ry="3"/><ellipse class="st" cx="57" cy="23" rx="6" ry="2"/><ellipse class="st" cx="145" cy="-0.5" rx="2" ry="1"/>
<circle class="dot" cx="-49" cy="-48" r="1.05"/><circle class="dot" cx="-32" cy="-52" r="1.05"/><circle class="dot" cx="-24.5" cy="-53.5" r="1.05"/><circle class="dot" cx="126.5" cy="-24" r="1.05"/><circle class="dot" cx="57.5" cy="-14" r="1.05"/>
<use href="#land"/><use href="#boxes"/>
</svg>

<!-- Month labels -->
<rect x="103.5" y="266" width="72" height="38.5" fill="#fff"/><text class="m" transform="translate(106 300) scale(1 1.2)">11月</text>
<rect x="1106.5" y="266" width="72" height="38.5" fill="#fff"/><text class="m" transform="translate(1109 300) scale(1 1.2)">12月</text>
<rect x="103.5" y="641" width="57" height="38.5" fill="#fff"/><text class="m" transform="translate(106 675) scale(1 1.2)">1月</text>
<rect x="1106.5" y="641" width="57" height="38.5" fill="#fff"/><text class="m" transform="translate(1109 675) scale(1 1.2)">2月</text>
<rect x="103.5" y="1016" width="57" height="38.5" fill="#fff"/><text class="m" transform="translate(106 1050) scale(1 1.2)">3月</text>
<rect x="1106.5" y="1016" width="57" height="38.5" fill="#fff"/><text class="m" transform="translate(1109 1050) scale(1 1.2)">4月</text>

<!-- Frames -->
<rect class="fr" x="102" y="17" width="870" height="289"/>
<rect class="fr" x="1105" y="17" width="870" height="289"/>
<rect class="fr" x="102" y="392" width="870" height="289"/>
<rect class="fr" x="1105" y="392" width="870" height="289"/>
<rect class="fr" x="102" y="767" width="870" height="289"/>
<rect class="fr" x="1105" y="767" width="870" height="289"/>

<!-- Ticks -->
<path class="tk" d="
M92,17H102 M92,65.2H102 M92,113.3H102 M92,161.5H102 M92,209.7H102 M92,257.8H102 M92,306H102
M92,392H102 M92,440.2H102 M92,488.3H102 M92,536.5H102 M92,584.7H102 M92,632.8H102 M92,681H102
M92,767H102 M92,815.2H102 M92,863.3H102 M92,911.5H102 M92,959.7H102 M92,1007.8H102 M92,1056H102
M1095,17H1105 M1095,65.2H1105 M1095,113.3H1105 M1095,161.5H1105 M1095,209.7H1105 M1095,257.8H1105 M1095,306H1105
M1095,392H1105 M1095,440.2H1105 M1095,488.3H1105 M1095,536.5H1105 M1095,584.7H1105 M1095,632.8H1105 M1095,681H1105
M1095,767H1105 M1095,815.2H1105 M1095,863.3H1105 M1095,911.5H1105 M1095,959.7H1105 M1095,1007.8H1105 M1095,1056H1105
M102,306V316 M247,306V316 M392,306V316 M537,306V316 M682,306V316 M827,306V316 M972,306V316
M1105,306V316 M1250,306V316 M1395,306V316 M1540,306V316 M1685,306V316 M1830,306V316 M1975,306V316
M102,681V691 M247,681V691 M392,681V691 M537,681V691 M682,681V691 M827,681V691 M972,681V691
M1105,681V691 M1250,681V691 M1395,681V691 M1540,681V691 M1685,681V691 M1830,681V691 M1975,681V691
M102,1056V1066 M247,1056V1066 M392,1056V1066 M537,1056V1066 M682,1056V1066 M827,1056V1066 M972,1056V1066
M1105,1056V1066 M1250,1056V1066 M1395,1056V1066 M1540,1056V1066 M1685,1056V1066 M1830,1056V1066 M1975,1056V1066"/>

<!-- Y labels -->
<g class="t" text-anchor="end">
<text x="82" y="29">60°N</text><text x="82" y="125">30°N</text><text x="82" y="221.5">0°</text><text x="82" y="318">30°S</text>
<text x="82" y="404">60°N</text><text x="82" y="500">30°N</text><text x="82" y="596.5">0°</text><text x="82" y="693">30°S</text>
<text x="82" y="779">60°N</text><text x="82" y="875">30°N</text><text x="82" y="971.5">0°</text><text x="82" y="1068">30°S</text>
</g>
<!-- X labels -->
<g class="t" text-anchor="middle">
<text x="102" y="1103">90°W</text><text x="247" y="1103">45°W</text><text x="392" y="1103">0°</text><text x="537" y="1103">45°E</text><text x="682" y="1103">90°E</text><text x="827" y="1103">135°E</text><text x="972" y="1103">180°</text>
<text x="1105" y="1103">90°W</text><text x="1250" y="1103">45°W</text><text x="1395" y="1103">0°</text><text x="1540" y="1103">45°E</text><text x="1685" y="1103">90°E</text><text x="1830" y="1103">135°E</text><text x="1975" y="1103">180°</text>
</g>

<!-- Colorbar -->
<g stroke="#000" stroke-width="2">
<rect class="a" x="286" y="1163" width="180.1" height="27"/>
<rect class="b" x="466.1" y="1163" width="180.1" height="27"/>
<rect class="c" x="646.2" y="1163" width="180.1" height="27"/>
<rect class="d" x="826.3" y="1163" width="180.1" height="27"/>
<rect class="e" x="1006.4" y="1163" width="180.1" height="27"/>
<rect class="f" x="1186.5" y="1163" width="180.1" height="27"/>
<rect class="g" x="1366.6" y="1163" width="180.1" height="27"/>
<rect class="h" x="1546.7" y="1163" width="180.1" height="27"/>
</g>
<g class="t" text-anchor="middle">
<text x="286" y="1234">−0.4</text><text x="466.1" y="1234">−0.3</text><text x="646.2" y="1234">−0.2</text><text x="826.3" y="1234">−0.1</text><text x="1006.4" y="1234">0</text><text x="1186.5" y="1234">0.1</text><text x="1366.6" y="1234">0.2</text><text x="1546.7" y="1234">0.3</text><text x="1726.8" y="1234">0.4</text>
</g>
<text class="cbl" x="1006" y="1289" text-anchor="middle">相关系数</text>
</svg>
</body></html>
